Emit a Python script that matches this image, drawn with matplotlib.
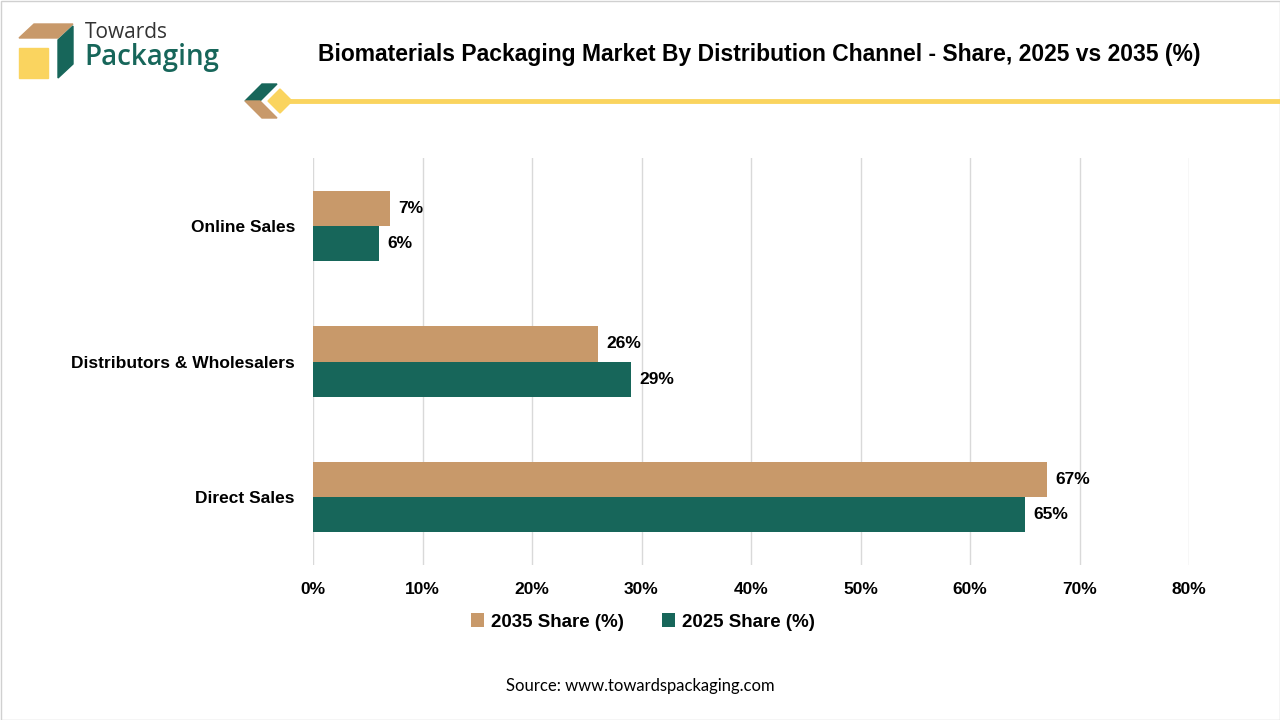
import matplotlib
matplotlib.use('Agg')
import matplotlib.pyplot as plt
import matplotlib.patches as mpatches
import numpy as np

plt.rcParams['font.family'] = ['Liberation Sans', 'DejaVu Sans']

categories = ['Direct Sales', 'Distributors & Wholesalers', 'Online Sales']
share_2035 = [67, 26, 7]
share_2025 = [65, 29, 6]
xticks = [0, 10, 20, 30, 40, 50, 60, 70, 80]

tan = '#C8996A'
green = '#17665A'
yellow = '#FAD45F'

fig = plt.figure(figsize=(12.8, 7.2), dpi=100)
ax = fig.add_axes([313/1280, 1-565/720, (1189-313)/1280, (565-158)/720])

y = np.arange(len(categories))
h = 0.26
b1 = ax.barh(y + h/2, share_2035, height=h, color=tan, label='2035 Share (%)', zorder=3)
b2 = ax.barh(y - h/2, share_2025, height=h, color=green, label='2025 Share (%)', zorder=3)
for bars, vals in [(b1, share_2035), (b2, share_2025)]:
    for bar, v in zip(bars, vals):
        ax.text(v + 0.8, bar.get_y() + bar.get_height()/2, f'{v}%', va='center', ha='left',
                fontsize=12.5, fontweight='bold')

ax.set_xlim(0, 80)
ax.set_ylim(-0.5, 2.5)
ax.set_xticks(xticks)
ax.set_xticklabels([f'{t}%' for t in xticks], fontsize=12.5, fontweight='bold')
ax.set_yticks(y)
ax.set_yticklabels(categories, fontsize=12.5, fontweight='bold')
ax.tick_params(axis='x', length=0, pad=12)
ax.tick_params(axis='y', length=0, pad=13)
ax.grid(axis='x', color='#D9D9D9', linewidth=1, zorder=0)
for s in ax.spines.values():
    s.set_visible(False)

ax.legend(loc='center', bbox_to_anchor=(643/1280, 1-622/720), bbox_transform=fig.transFigure,
          ncol=2, frameon=False, handlelength=0.7, handleheight=0.7, handletextpad=0.4,
          columnspacing=2.0, prop={'weight': 'bold', 'size': 13.5})

# title
fig.text(759/1280, 1-54/720, 'Biomaterials Packaging Market By Distribution Channel - Share, 2025 vs 2035 (%)',
         ha='center', va='center', fontsize=16.5, fontweight='bold')
fig.text(640/1280, 1-686/720, 'Source: www.towardspackaging.com', ha='center', va='center',
         fontsize=12, family=['Lato', 'DejaVu Sans'])

# decorative line
W, H = 1280, 720
def P(pts):
    return [(px/W, 1-py/H) for px, py in pts]

fig.add_artist(plt.Line2D([285/W, 1.0], [1-101/H, 1-101/H], color=yellow, linewidth=3.5))
fig.add_artist(mpatches.Polygon(P([(245, 101), (262, 84), (277, 84), (260, 101)]), closed=True,
                                color=green, transform=fig.transFigure))
fig.add_artist(mpatches.Polygon(P([(245, 101), (260, 101), (277, 118), (262, 118)]), closed=True,
                                color=tan, transform=fig.transFigure))
fig.add_artist(mpatches.Polygon(P([(268, 101), (280, 89), (292, 101), (280, 113)]), closed=True,
                                color=yellow, transform=fig.transFigure))

# logo
fig.add_artist(mpatches.Polygon(P([(19, 38), (58, 38), (73, 24), (34, 24)]), closed=True,
                                color=tan, transform=fig.transFigure))
fig.add_artist(mpatches.Polygon(P([(58, 40), (73, 26), (73, 64), (58, 78)]), closed=True,
                                color=green, transform=fig.transFigure))
fig.add_artist(mpatches.Rectangle((19/W, 1-78/H), 29/W, 30/H, color=yellow, transform=fig.transFigure))
fig.text(85/W, 1-32/H, 'Towards', fontsize=15, color='#333333', va='center', ha='left',
         family=['Open Sans', 'DejaVu Sans'])
fig.text(84/W, 1-58/H, 'Packaging', fontsize=20, color=green, va='center', ha='left',
         fontweight='semibold', family=['Open Sans', 'DejaVu Sans'])

# border
fig.add_artist(mpatches.Rectangle((0.5/W, 0.5/H), 1-1/W, 1-1/H, fill=False, edgecolor='#D0D0D0',
                                  linewidth=1, transform=fig.transFigure))

fig.savefig('out.png', dpi=100)
